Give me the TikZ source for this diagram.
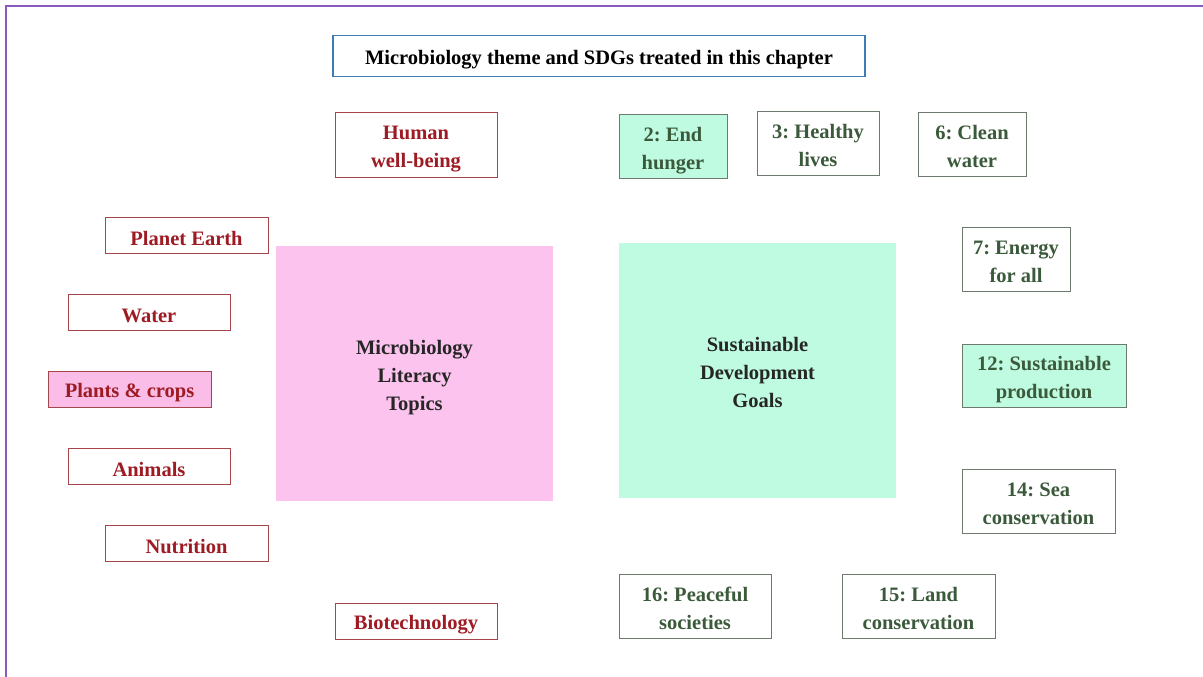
\documentclass[tikz,border=0pt]{standalone}
\usepackage{fontspec}
\setmainfont{Liberation Serif}
\definecolor{redtxt}{HTML}{9E1B24}
\definecolor{redln}{HTML}{A5464C}
\definecolor{grntxt}{HTML}{3B5A3B}
\definecolor{grnln}{HTML}{6E7A6E}
\definecolor{bluln}{HTML}{3D7DB3}
\definecolor{pinkbig}{HTML}{FCC3EE}
\definecolor{pinksm}{HTML}{F9BDE8}
\definecolor{mint}{HTML}{BFFBE1}
\definecolor{purp}{HTML}{8A5BBE}
\frenchspacing
\newcommand\dnlines[1]{\raisebox{-3.5pt}[\height][\depth]{\begin{tabular}{@{}c@{}}#1\end{tabular}}}
\begin{document}
\begin{tikzpicture}[x=1pt,y=-1pt,
  box/.style={draw, line width=1pt, inner sep=0pt, font=\fontsize{20.5}{28}\selectfont\bfseries},
  one/.style={align=center, execute at begin node={\rule{0pt}{21pt}}},
  topic/.style={box, draw=redln, text=redtxt},
  sdg/.style={box, draw=grnln, text=grntxt},
  big/.style={inner sep=0pt, text=black!85, font=\fontsize{20.5}{28}\selectfont\bfseries},
  sz/.style 2 args={minimum width=#1pt, minimum height=#2pt}]
\useasboundingbox (0,0) rectangle (1203,677);
\fill[white] (0,0) rectangle (1203,677);
\draw[purp, line width=2pt] (6,690) -- (6,6) -- (1215,6);

\node[box, one, draw=bluln, line width=1.6pt, text=black, sz={532}{41}] (title) at (599,56) {Microbiology theme and SDGs treated in this chapter};

\node[big, fill=pinkbig, sz={277}{255}] (mlt) at (414.5,373.5) {\dnlines{Microbiology\\Literacy\\Topics}};
\node[big, fill=mint, sz={277}{255}] (sdgs) at (757.5,370.5) {\dnlines{Sustainable\\Development\\Goals}};

\node[topic, sz={162}{65}] (human) at (416,144.5) {\dnlines{Human\\well-being}};
\node[topic, one, sz={163}{36}] (planet) at (186.5,235) {Planet Earth};
\node[topic, one, sz={162}{36}] (water) at (149,312) {Water};
\node[topic, one, fill=pinksm, sz={163}{36}] (plants) at (129.5,389) {Plants \& crops};
\node[topic, one, sz={162}{36}] (animals) at (149,466) {Animals};
\node[topic, one, sz={163}{36}] (nutrition) at (186.5,543) {Nutrition};
\node[topic, one, sz={162}{36}] (biotech) at (416,621) {Biotechnology};

\node[sdg, fill=mint, sz={108}{64}] (g2) at (673,146) {\dnlines{2: End\\hunger}};
\node[sdg, sz={122}{64}] (g3) at (818,143) {\dnlines{3: Healthy\\lives}};
\node[sdg, sz={108}{64}] (g6) at (972,144) {\dnlines{6: Clean\\water}};
\node[sdg, sz={108}{64}] (g7) at (1016,259) {\dnlines{7: Energy\\for all}};
\node[sdg, fill=mint, sz={164}{63}] (g12) at (1044,375.5) {\dnlines{12: Sustainable\\production}};
\node[sdg, sz={153}{64}] (g14) at (1038.5,501) {\dnlines{14: Sea\\conservation}};
\node[sdg, sz={153}{64}] (g15) at (918.5,606) {\dnlines{15: Land\\conservation}};
\node[sdg, sz={152}{64}] (g16) at (695,606) {\dnlines{16: Peaceful\\societies}};
\end{tikzpicture}
\end{document}
